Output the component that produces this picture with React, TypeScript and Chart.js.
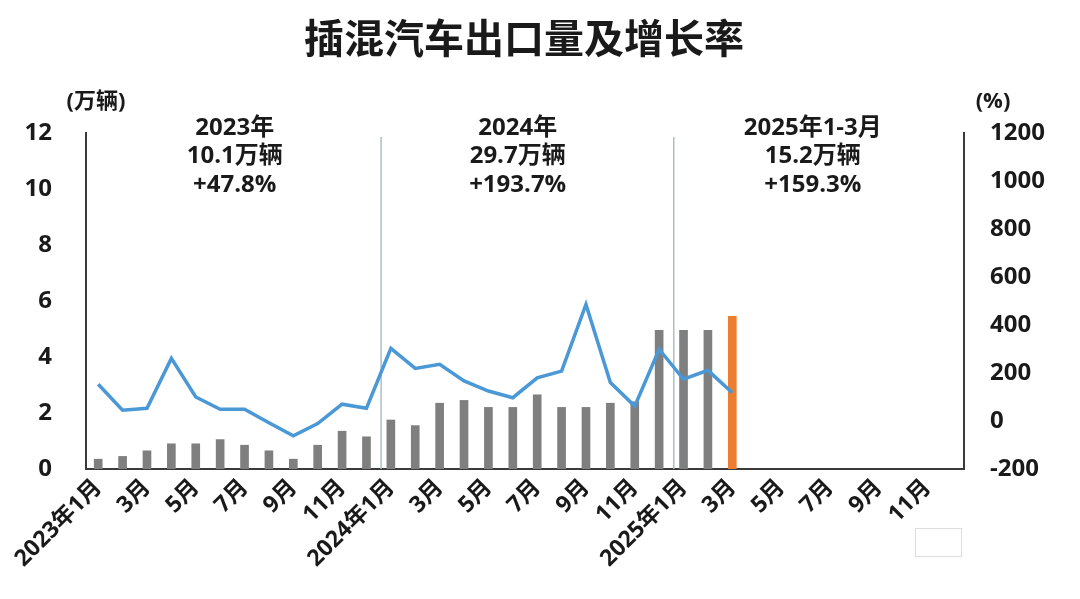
import React, { useEffect, useRef } from "react";
import { Chart, registerables } from "chart.js";

Chart.register(...registerables);

const months: string[] = [
  "2023年1月", "2月", "3月", "4月", "5月", "6月", "7月", "8月", "9月", "10月", "11月", "12月",
  "2024年1月", "2月", "3月", "4月", "5月", "6月", "7月", "8月", "9月", "10月", "11月", "12月",
  "2025年1月", "2月", "3月", "4月", "5月", "6月", "7月", "8月", "9月", "10月", "11月", "12月",
];

// 出口量（万辆）
const exportVolume: (number | null)[] = [
  0.35, 0.45, 0.65, 0.9, 0.9, 1.05, 0.85, 0.65, 0.35, 0.85, 1.35, 1.15,
  1.75, 1.55, 2.35, 2.45, 2.2, 2.2, 2.65, 2.2, 2.2, 2.35, 2.4, 4.95,
  4.95, 4.95, 5.45, null, null, null, null, null, null, null, null, null,
];

// 增长率（%）
const growthRate: (number | null)[] = [
  153, 45, 53, 261, 100, 49, 49, -7, -62, -11, 70, 53,
  303, 219, 236, 167, 125, 97, 180, 208, 486, 160, 62, 299,
  174, 211, 118, null, null, null, null, null, null, null, null, null,
];

const highlightIndex = 26;

const leftTicks = [0, 2, 4, 6, 8, 10, 12];
const rightTicks = [-200, 0, 200, 400, 600, 800, 1000, 1200];

const titleText = "插混汽车出口量及增长率";
const leftUnit = "(万辆)";
const rightUnit = "(%)";

const yearNotes: string[][] = [
  ["2023年", "10.1万辆", "+47.8%"],
  ["2024年", "29.7万辆", "+193.7%"],
  ["2025年1-3月", "15.2万辆", "+159.3%"],
];
const noteCenters = [5.6, 17.2, 29.3];
const separators = [11.6, 23.6];

const FONT = '"Open Sans", "Noto Sans CJK SC", sans-serif';
const CJK = '"Noto Sans CJK SC", "Noto Sans", sans-serif';

export default function App() {
  const canvasRef = useRef<HTMLCanvasElement | null>(null);

  useEffect(() => {
    const canvas = canvasRef.current;
    if (!canvas) return;

    const overlay = {
      id: "overlay",
      beforeDatasetsDraw(chart: any) {
        const ctx = chart.ctx;
        const x = chart.scales.x;
        const area = chart.chartArea;
        ctx.save();
        ctx.strokeStyle = "#a9bfcc";
        ctx.lineWidth = 1.5;
        separators.forEach((s) => {
          const px = x.getPixelForValue(s);
          ctx.beginPath();
          ctx.moveTo(px, area.top + 4);
          ctx.lineTo(px, area.bottom);
          ctx.stroke();
        });
        ctx.restore();
      },
      afterDraw(chart: any) {
        const ctx = chart.ctx;
        const x = chart.scales.x;
        ctx.save();
        ctx.fillStyle = "#1a1a1a";
        ctx.textAlign = "center";
        ctx.textBaseline = "middle";
        ctx.font = `bold 40px ${CJK}`;
        ctx.fillText(titleText, 524, 38);
        ctx.font = `bold 22px ${FONT}`;
        ctx.fillText(leftUnit, 96, 102);
        ctx.fillText(rightUnit, 993, 102);
        ctx.font = `bold 24px ${FONT}`;
        yearNotes.forEach((lines, i) => {
          const cx = x.getPixelForValue(noteCenters[i]);
          lines.forEach((t, j) => {
            ctx.fillText(t, cx, 128 + j * 28.5);
          });
        });
        ctx.strokeStyle = "#dcdcdc";
        ctx.lineWidth = 1;
        ctx.strokeRect(915.5, 528.5, 46, 28);
        ctx.restore();
      },
    };

    const chart = new Chart(canvas, {
      type: "bar",
      data: {
        labels: months,
        datasets: [
          {
            type: "line",
            label: "增长率",
            data: growthRate,
            yAxisID: "y1",
            borderColor: "#4a98d6",
            backgroundColor: "#4a98d6",
            borderWidth: 3.5,
            pointRadius: 0,
            tension: 0,
            order: 0,
          } as any,
          {
            type: "bar",
            label: "出口量",
            data: exportVolume,
            yAxisID: "y",
            backgroundColor: exportVolume.map((_, i) => (i === highlightIndex ? "#ed7d31" : "#7f7f7f")),
            barThickness: 8,
            order: 1,
          },
        ],
      },
      options: {
        responsive: false,
        animation: false,
        events: [],
        layout: { padding: { top: 133, left: 0, right: 0, bottom: 0 } },
        plugins: {
          legend: { display: false },
          tooltip: { enabled: false },
          title: { display: false },
        },
        scales: {
          x: {
            grid: { display: false, drawTicks: false },
            border: { display: true, color: "#3a3a3a", width: 2 },
            ticks: {
              autoSkip: false,
              maxRotation: 45,
              minRotation: 45,
              padding: 5,
              color: "#1a1a1a",
              font: { family: FONT, size: 23, weight: "bold" },
              callback: (_v: any, i: number) => (i % 2 === 0 ? months[i] : ""),
            },
            afterFit: (s: any) => {
              s.height = 130;
            },
          },
          y: {
            position: "left",
            min: 0,
            max: 12,
            afterBuildTicks: (s: any) => {
              s.ticks = leftTicks.map((v) => ({ value: v }));
            },
            grid: { display: false, drawTicks: false },
            border: { display: true, color: "#3a3a3a", width: 2 },
            ticks: {
              padding: 34,
              color: "#1a1a1a",
              font: { family: FONT, size: 24, weight: "bold" },
              callback: (v: any) => String(v),
            },
            afterFit: (s: any) => {
              s.width = 86;
            },
          },
          y1: {
            position: "right",
            min: -200,
            max: 1200,
            afterBuildTicks: (s: any) => {
              s.ticks = rightTicks.map((v) => ({ value: v }));
            },
            grid: { display: false, drawTicks: false },
            border: { display: true, color: "#3a3a3a", width: 2 },
            ticks: {
              padding: 26,
              color: "#1a1a1a",
              font: { family: FONT, size: 24, weight: "bold" },
              callback: (v: any) => String(v),
            },
            afterFit: (s: any) => {
              s.width = 116;
            },
          },
        },
      },
      plugins: [overlay],
    } as any);

    return () => chart.destroy();
  }, []);

  return (
    <div style={{ position: "absolute", left: 0, top: 0, width: 1080, height: 599, background: "#fff" }}>
      <canvas ref={canvasRef} width={1080} height={599} style={{ display: "block" }} />
    </div>
  );
}
